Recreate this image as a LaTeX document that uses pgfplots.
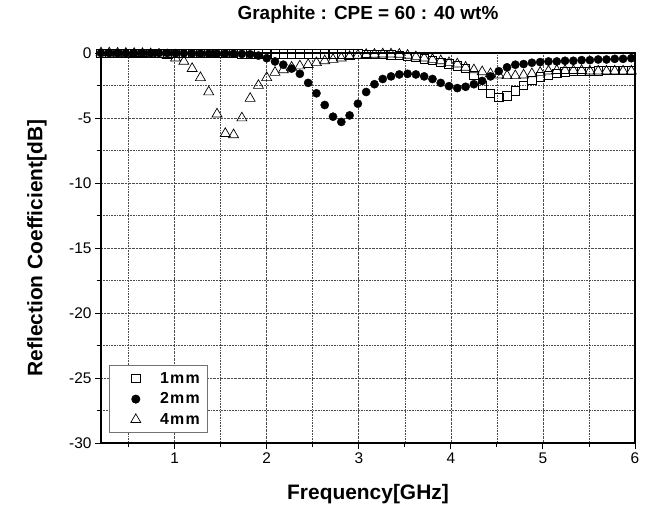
\documentclass[border=0pt]{standalone}
\usepackage{pgfplots}
\pgfplotsset{compat=1.18}
\usepackage{fontspec}
\setmainfont{Liberation Sans}
\pgfplotsset{mylegend/.style={legend image code/.code={\path (0bp,-4bp) (42bp,4bp); \draw[mark repeat=2,mark phase=2,##1] plot coordinates {(0bp,0bp) (20bp,0bp) (42bp,0bp)};}}}
\begin{document}
\begin{tikzpicture}
\begin{axis}[
  scale only axis, width=534bp, height=390bp,
  xmin=0.2, xmax=6, ymin=-30, ymax=0,
  xtick={1,2,3,4,5,6}, ytick={-30,-25,...,0},
  minor xtick={0.5,1.5,...,5.5}, minor ytick={-27.5,-22.5,...,-2.5},
  grid=both,
  grid style={densely dotted, black!70, line width=0.6pt},
  minor grid style={densely dotted, black!70, line width=0.6pt},
  tick align=outside, xtick pos=bottom, ytick pos=left,
  major tick length=6bp, minor tick length=4bp,
  axis line style={line width=1.1pt},
  every tick/.style={black, line width=0.9pt},
  /pgf/number format/assume math mode=true,
  ticklabel style={font=\fontsize{15.5}{17}\selectfont},
  title={Graphite : CPE = 60 : 40 wt\%},
  title style={font=\fontsize{19}{22}\selectfont\bfseries, at={(axis description cs:0.5,1.0718)}, anchor=base},
  xlabel={Frequency[GHz]},
  xlabel style={font=\fontsize{21}{24}\selectfont\bfseries, at={(axis description cs:0.5,-0.1436)}, anchor=base},
  ylabel={Reflection Coefficient[dB]},
  ylabel style={font=\fontsize{21}{24}\selectfont\bfseries, at={(axis description cs:-0.12,0.5)}, anchor=center},
  legend style={at={(axis description cs:0.015,0.025)}, anchor=south west, draw=black!55, line width=0.8pt,
    font=\fontsize{16}{18}\selectfont\bfseries, row sep=4bp, inner xsep=6bp, inner ysep=5bp},
  legend cell align=left,
]
\addplot[only marks, mylegend, mark=square, mark size=4.2bp, mark options={black, line width=0.7pt, fill=none}] coordinates {
(0.2,-0.02)(0.29,-0.02)(0.38,-0.02)(0.47,-0.02)(0.56,-0.03)(0.65,-0.03)(0.74,-0.03)(0.83,-0.03)(0.92,-0.04)(1.01,-0.04)
(1.1,-0.04)(1.19,-0.05)(1.28,-0.05)(1.37,-0.05)(1.46,-0.05)(1.55,-0.05)(1.64,-0.05)(1.73,-0.06)(1.82,-0.06)(1.91,-0.06)
(2.0,-0.07)(2.09,-0.07)(2.18,-0.07)(2.27,-0.08)(2.36,-0.08)(2.45,-0.08)(2.54,-0.08)(2.63,-0.08)(2.72,-0.08)(2.81,-0.08)
(2.9,-0.08)(2.99,-0.08)(3.08,-0.09)(3.17,-0.1)(3.26,-0.12)(3.35,-0.15)(3.44,-0.2)(3.53,-0.28)(3.62,-0.35)(3.71,-0.45)
(3.8,-0.55)(3.89,-0.7)(3.98,-0.85)(4.07,-1.0)(4.16,-1.2)(4.25,-1.7)(4.34,-2.5)(4.43,-3.1)(4.52,-3.4)(4.61,-3.3)
(4.7,-2.9)(4.79,-2.5)(4.88,-2.1)(4.97,-1.85)(5.06,-1.7)(5.15,-1.55)(5.24,-1.45)(5.33,-1.4)(5.42,-1.4)(5.51,-1.4)
(5.6,-1.38)(5.69,-1.35)(5.78,-1.35)(5.87,-1.35)(5.96,-1.35)};
\addlegendentry{1\kern1pt m\kern1.5pt m}
\addplot[only marks, mylegend, mark=*, mark size=4.1bp, mark options={black, fill=black}] coordinates {
(0.2,0)(0.29,0)(0.38,0)(0.47,0)(0.56,0)(0.65,0)(0.74,0)(0.83,0)(0.92,0)(1.01,-0.01)
(1.1,-0.02)(1.19,-0.04)(1.28,-0.05)(1.37,-0.05)(1.46,-0.05)(1.55,-0.05)(1.64,-0.06)(1.73,-0.07)(1.82,-0.1)(1.91,-0.2)
(2.0,-0.4)(2.09,-0.65)(2.18,-0.9)(2.27,-1.2)(2.36,-1.6)(2.45,-2.3)(2.54,-3.1)(2.63,-4.0)(2.72,-4.9)(2.81,-5.3)
(2.9,-4.8)(2.99,-3.9)(3.08,-3.0)(3.17,-2.4)(3.26,-2.0)(3.35,-1.8)(3.44,-1.65)(3.53,-1.6)(3.62,-1.65)(3.71,-1.8)
(3.8,-2.0)(3.89,-2.3)(3.98,-2.55)(4.07,-2.7)(4.16,-2.6)(4.25,-2.4)(4.34,-2.15)(4.43,-1.8)(4.52,-1.4)(4.61,-1.1)
(4.7,-0.9)(4.79,-0.85)(4.88,-0.75)(4.97,-0.7)(5.06,-0.65)(5.15,-0.65)(5.24,-0.6)(5.33,-0.6)(5.42,-0.55)(5.51,-0.55)
(5.6,-0.5)(5.69,-0.5)(5.78,-0.45)(5.87,-0.45)(5.96,-0.4)};
\addlegendentry{2\kern1pt m\kern1.5pt m}
\addplot[only marks, mylegend, mark=triangle, mark size=5.8bp, mark options={black, line width=0.7pt, fill=none}] coordinates {
(0.2,0)(0.29,0)(0.38,-0.02)(0.47,-0.03)(0.56,-0.04)(0.65,-0.05)(0.74,-0.07)(0.83,-0.1)(0.92,-0.2)(1.01,-0.4)
(1.1,-0.65)(1.19,-1.2)(1.28,-1.9)(1.37,-3.0)(1.46,-4.7)(1.55,-6.2)(1.64,-6.3)(1.73,-5.0)(1.82,-3.5)(1.91,-2.5)
(2.0,-1.9)(2.09,-1.5)(2.18,-1.3)(2.27,-1.1)(2.36,-1.0)(2.45,-0.9)(2.54,-0.75)(2.63,-0.6)(2.72,-0.5)(2.81,-0.4)
(2.9,-0.28)(2.99,-0.18)(3.08,-0.12)(3.17,-0.1)(3.26,-0.08)(3.35,-0.08)(3.44,-0.1)(3.53,-0.18)(3.62,-0.3)(3.71,-0.4)
(3.8,-0.5)(3.89,-0.6)(3.98,-0.75)(4.07,-0.85)(4.16,-1.1)(4.25,-1.3)(4.34,-1.45)(4.43,-1.6)(4.52,-1.7)(4.61,-1.75)
(4.7,-1.75)(4.79,-1.7)(4.88,-1.6)(4.97,-1.5)(5.06,-1.4)(5.15,-1.35)(5.24,-1.35)(5.33,-1.35)(5.42,-1.35)(5.51,-1.4)
(5.6,-1.4)(5.69,-1.4)(5.78,-1.4)(5.87,-1.4)(5.96,-1.4)};
\addlegendentry{4\kern1pt m\kern1.5pt m}
\end{axis}
\pgfresetboundingbox
\path ([shift={(-101bp,-61bp)}]current axis.south west) rectangle ([shift={(16bp,53bp)}]current axis.north east);
\end{tikzpicture}
\end{document}
